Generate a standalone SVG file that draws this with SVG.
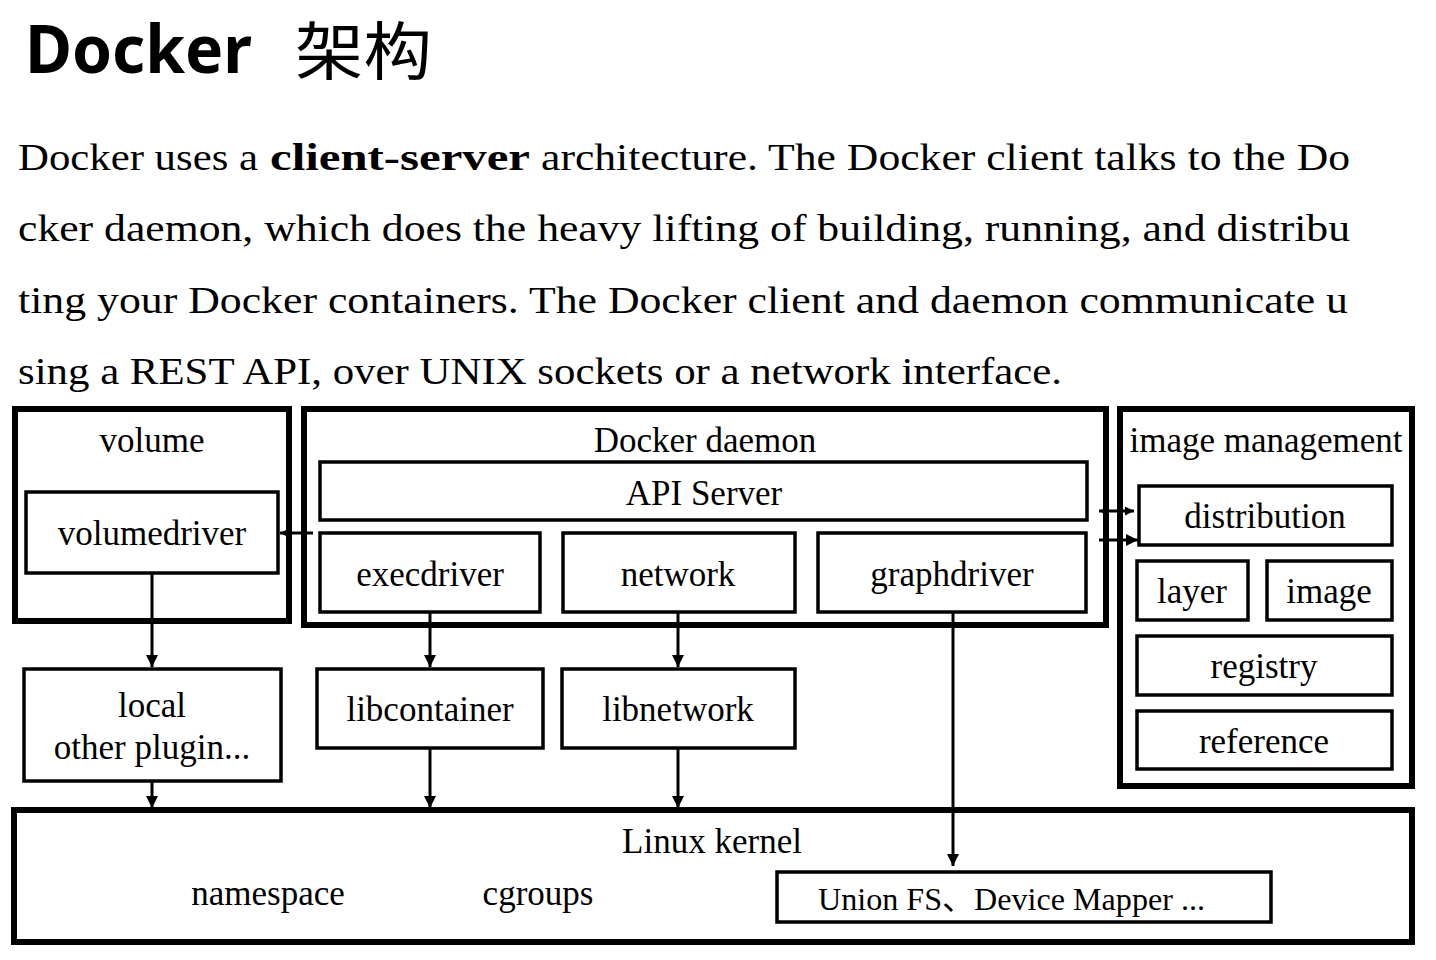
<svg xmlns="http://www.w3.org/2000/svg" width="1436" height="960" viewBox="0 0 1436 960">
<style>
.bg{fill:#fff}
.outer{fill:none;stroke:#000;stroke-width:6}
.inner{fill:none;stroke:#000;stroke-width:3.5}
.lbl{font-family:"Liberation Serif","Times New Roman",serif;font-size:35px;fill:#000;text-anchor:middle}
.para{font-family:"Liberation Serif","Times New Roman",serif;font-size:38px;fill:#000}
.conn{fill:none;stroke:#000;stroke-width:3}
</style>
<defs>
<marker id="ah" viewBox="0 0 12 12" refX="12" refY="6" markerWidth="12" markerHeight="12" markerUnits="userSpaceOnUse" orient="auto-start-reverse">
<path d="M0,0 L12,6 L0,12 Z" fill="#000"/>
</marker>
<marker id="ahs" viewBox="0 0 10 10" refX="10" refY="5" markerWidth="9" markerHeight="9" markerUnits="userSpaceOnUse" orient="auto-start-reverse">
<path d="M0,0 L10,5 L0,10 Z" fill="#000"/>
</marker>
</defs>
<rect class="bg" x="0" y="0" width="1436" height="960"/>

<g id="title">
<text x="25" y="73" font-family="'Noto Sans','Open Sans',sans-serif" font-weight="bold" font-size="67" textLength="227" lengthAdjust="spacingAndGlyphs">Docker</text>
<text x="295" y="74" font-family="'Noto Sans CJK SC','Noto Sans CJK JP',sans-serif" font-size="63" textLength="137" lengthAdjust="spacingAndGlyphs">架构</text>
</g>

<g id="paragraph">
<text class="para" x="18" y="170" textLength="240" lengthAdjust="spacingAndGlyphs">Docker uses a</text>
<text class="para" x="270" y="170" font-weight="bold" textLength="260" lengthAdjust="spacingAndGlyphs">client-server</text>
<text class="para" x="541" y="170" textLength="809" lengthAdjust="spacingAndGlyphs">architecture. The Docker client talks to the Do</text>
<text class="para" x="18" y="241" textLength="1332" lengthAdjust="spacingAndGlyphs">cker daemon, which does the heavy lifting of building, running, and distribu</text>
<text class="para" x="18" y="313" textLength="1330" lengthAdjust="spacingAndGlyphs">ting your Docker containers. The Docker client and daemon communicate u</text>
<text class="para" x="18" y="384" textLength="1044" lengthAdjust="spacingAndGlyphs">sing a REST API, over UNIX sockets or a network interface.</text>
</g>

<g id="connectors">
<line class="conn" x1="313" y1="533" x2="280" y2="533" marker-end="url(#ah)"/>
<line class="conn" x1="1099" y1="511" x2="1134" y2="511" marker-start="url(#ahs)" marker-end="url(#ahs)"/>
<line class="conn" x1="1099" y1="540" x2="1138" y2="540" marker-end="url(#ah)"/>
<line class="conn" x1="152" y1="574" x2="152" y2="667" marker-end="url(#ah)"/>
<line class="conn" x1="430" y1="613" x2="430" y2="667" marker-end="url(#ah)"/>
<line class="conn" x1="678" y1="613" x2="678" y2="667" marker-end="url(#ah)"/>
<line class="conn" x1="152" y1="782" x2="152" y2="808" marker-end="url(#ah)"/>
<line class="conn" x1="430" y1="748" x2="430" y2="808" marker-end="url(#ah)"/>
<line class="conn" x1="678" y1="748" x2="678" y2="808" marker-end="url(#ah)"/>
<line class="conn" x1="953" y1="613" x2="953" y2="866" marker-end="url(#ah)"/>
</g>

<g id="volume">
<rect class="outer" x="15" y="409" width="274" height="212"/>
<text class="lbl" x="152" y="452">volume</text>
</g>
<g id="volumedriver">
<rect class="inner" x="26" y="492" width="252" height="81"/>
<text class="lbl" x="152" y="545">volumedriver</text>
</g>

<g id="docker-daemon">
<rect class="outer" x="304" y="409" width="802" height="216"/>
<text class="lbl" x="705" y="452">Docker daemon</text>
</g>
<g id="api-server">
<rect class="inner" x="320" y="462" width="767" height="58"/>
<text class="lbl" x="704" y="505">API Server</text>
</g>
<g id="execdriver">
<rect class="inner" x="320" y="533" width="220" height="79"/>
<text class="lbl" x="430" y="586">execdriver</text>
</g>
<g id="network">
<rect class="inner" x="563" y="533" width="232" height="79"/>
<text class="lbl" x="678" y="586">network</text>
</g>
<g id="graphdriver">
<rect class="inner" x="818" y="533" width="268" height="79"/>
<text class="lbl" x="952" y="586">graphdriver</text>
</g>

<g id="image-management">
<rect class="outer" x="1120" y="409" width="292" height="377"/>
<text class="lbl" x="1266" y="452">image management</text>
</g>
<g id="distribution">
<rect class="inner" x="1139" y="486" width="253" height="59"/>
<text class="lbl" x="1265" y="528">distribution</text>
</g>
<g id="layer">
<rect class="inner" x="1137" y="561" width="111" height="59"/>
<text class="lbl" x="1192" y="603">layer</text>
</g>
<g id="image">
<rect class="inner" x="1267" y="561" width="125" height="59"/>
<text class="lbl" x="1329" y="603">image</text>
</g>
<g id="registry">
<rect class="inner" x="1137" y="636" width="255" height="59"/>
<text class="lbl" x="1264" y="678">registry</text>
</g>
<g id="reference">
<rect class="inner" x="1137" y="711" width="255" height="58"/>
<text class="lbl" x="1264" y="753">reference</text>
</g>

<g id="local-plugin">
<rect class="inner" x="24" y="669" width="257" height="112"/>
<text class="lbl" x="152" y="717">local</text>
<text class="lbl" x="152" y="759">other plugin...</text>
</g>
<g id="libcontainer">
<rect class="inner" x="317" y="669" width="226" height="79"/>
<text class="lbl" x="430" y="721">libcontainer</text>
</g>
<g id="libnetwork">
<rect class="inner" x="562" y="669" width="233" height="79"/>
<text class="lbl" x="678" y="721">libnetwork</text>
</g>

<g id="linux-kernel">
<rect class="outer" x="14" y="810" width="1398" height="132"/>
<text class="lbl" x="712" y="853">Linux kernel</text>
<text class="lbl" x="268" y="905">namespace</text>
<text class="lbl" x="538" y="905">cgroups</text>
</g>
<g id="unionfs">
<rect class="inner" x="777" y="872" width="494" height="50"/>
<text x="818" y="910" font-family="'Liberation Serif','Noto Sans CJK SC',serif" font-size="31" textLength="387" lengthAdjust="spacingAndGlyphs">Union FS、Device Mapper  ...</text>
</g>
</svg>
